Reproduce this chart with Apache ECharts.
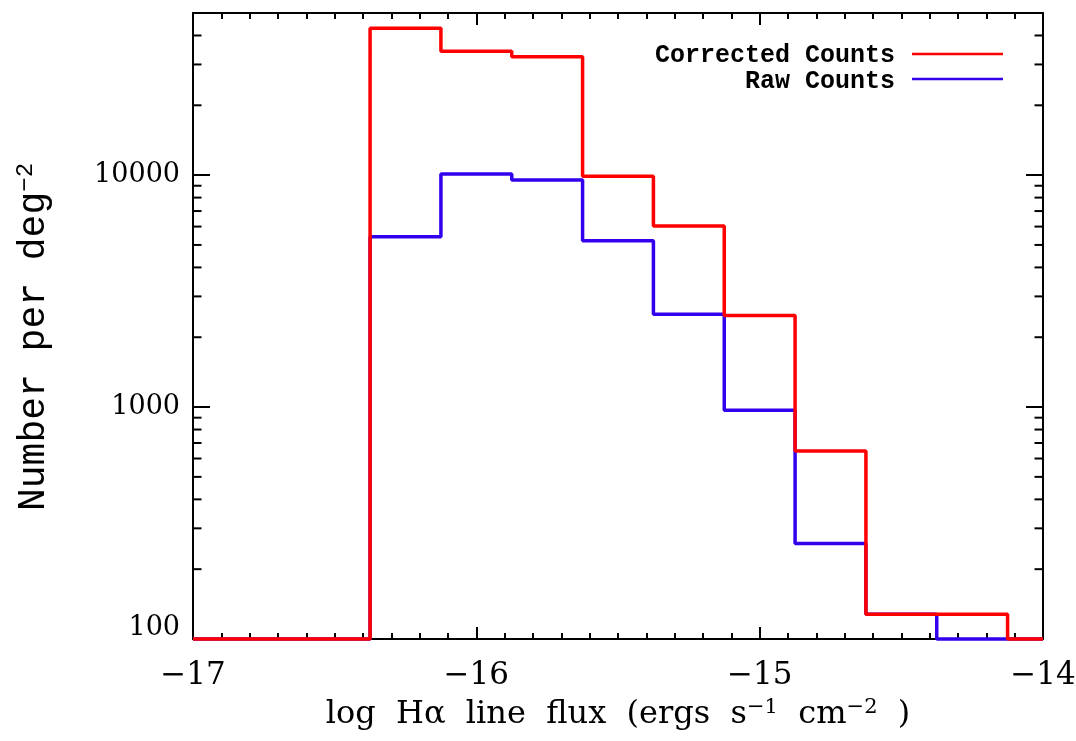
<!DOCTYPE html>
<html>
<head>
<meta charset="utf-8">
<script src="https://cdn.jsdelivr.net/npm/echarts@6/dist/echarts.min.js"></script>
<style>
html,body{margin:0;padding:0;background:#fff;}
#chart{width:1076px;height:741px;}
</style>
</head>
<body>
<div id="chart"></div>
<script>
// Step positions (bin edges, bounded by the axis range), width 0.25 dex
const stepX = [-17, -16.375, -16.125, -15.875, -15.625, -15.375, -15.125, -14.875, -14.625, -14.375, -14.125, -14];
// Values per step (100 = empty bins sitting on the axis floor)
const correctedCounts = [100, 43000, 34200, 32400, 9900, 6040, 2480, 647, 128, 128, 100, 100];
const rawCounts       = [100, 5420, 10100, 9520, 5210, 2510, 970, 258, 128, 100, 100, 100];
const xTicks = [-17, -16, -15, -14];
const yTicks = [100, 1000, 10000];
const seriesNames = ['Corrected Counts', 'Raw Counts'];
const seriesColors = ['#ff0000', '#3300ee'];

const X_MIN = -17, X_MAX = -14, Y_MIN = 100, Y_MAX = 50000;

// minor tick values on log axis (2..9 x 10^n)
const yMinor = [];
for (let d = 100; d < Y_MAX; d *= 10) {
  for (let m = 2; m <= 9; m++) { const v = m * d; if (v < Y_MAX) yMinor.push([X_MIN, v]); }
}

const chart = echarts.init(document.getElementById('chart'), null, {renderer: 'canvas'});
const tickFont = 'DejaVu Serif';
const black = '#000';

function pair(xs, ys) { return xs.map((x, i) => [x, ys[i]]); }
function fmtX(v) { return (v < 0 ? '\u2212' : '') + Math.abs(v); }

const option = {
  animation: false,
  backgroundColor: '#fff',
  grid: {left: 193, right: 33, top: 13, bottom: 102, containLabel: false, outerBoundsMode: 'none'},
  xAxis: [
    {
      type: 'value', min: X_MIN, max: X_MAX, interval: 1, position: 'bottom',
      axisLine: {show: true, onZero: false, lineStyle: {color: black, width: 2}},
      axisTick: {show: true, inside: true, length: 12, lineStyle: {color: black, width: 2}},
      minorTick: {show: true, splitNumber: 10, length: 6, lineStyle: {color: black, width: 2}},
      splitLine: {show: false},
      axisLabel: {show: true, formatter: fmtX, color: black, fontFamily: tickFont, fontSize: 31, margin: 21},
      name: '{t|log  H\u03b1  line  flux  (ergs  s}{s|\u22121}{t|  cm}{s|\u22122}{t|  )}',
      nameLocation: 'middle', nameGap: 58,
      nameTextStyle: {
        rich: {
          t: {fontFamily: 'DejaVu Serif', fontSize: 32, color: black, lineHeight: 36},
          s: {fontFamily: 'DejaVu Serif', fontSize: 21, color: black, verticalAlign: 'top', lineHeight: 36}
        }
      }
    },
    {
      type: 'value', min: X_MIN, max: X_MAX, interval: 1, position: 'top',
      axisLine: {show: true, onZero: false, lineStyle: {color: black, width: 2}},
      axisTick: {show: true, inside: true, length: 12, lineStyle: {color: black, width: 2}},
      minorTick: {show: true, splitNumber: 10, length: 6, lineStyle: {color: black, width: 2}},
      splitLine: {show: false},
      axisLabel: {show: false}
    }
  ],
  yAxis: [
    {
      type: 'log', logBase: 10, min: Y_MIN, max: Y_MAX, position: 'left',
      axisLine: {show: true, onZero: false, lineStyle: {color: black, width: 2}},
      axisTick: {show: true, inside: true, length: 17, lineStyle: {color: black, width: 2}},
      splitLine: {show: false},
      axisLabel: {
        show: true, color: black, fontFamily: tickFont, fontSize: 27, lineHeight: 22, margin: 13,
        showMaxLabel: false, verticalAlignMinLabel: 'bottom',
        formatter: v => (yTicks.indexOf(Math.round(v)) >= 0 ? String(Math.round(v)) : '')
      },
      name: '{t|Number per deg}{s|\u22122}',
      nameLocation: 'middle', nameRotate: 90, nameGap: 139,
      nameTextStyle: {
        padding: [0, 22, 0, 0],
        rich: {
          t: {fontFamily: 'Liberation Mono', fontSize: 38, color: black, lineHeight: 40},
          s: {fontFamily: 'Liberation Mono', fontSize: 24, color: black, verticalAlign: 'top', lineHeight: 40}
        }
      }
    },
    {
      type: 'log', logBase: 10, min: Y_MIN, max: Y_MAX, position: 'right',
      axisLine: {show: true, onZero: false, lineStyle: {color: black, width: 2}},
      axisTick: {show: true, inside: true, length: 17, lineStyle: {color: black, width: 2}},
      splitLine: {show: false},
      axisLabel: {show: false}
    }
  ],
  graphic: [
    {type: 'text', right: 181, top: 43, style: {text: seriesNames[0], font: 'bold 25px "Liberation Mono"', fill: black, textAlign: 'right'}},
    {type: 'text', right: 181, top: 69, style: {text: seriesNames[1], font: 'bold 25px "Liberation Mono"', fill: black, textAlign: 'right'}},
    {type: 'line', shape: {x1: 912, y1: 54, x2: 1003, y2: 54}, style: {stroke: seriesColors[0], lineWidth: 2.5}},
    {type: 'line', shape: {x1: 912, y1: 79, x2: 1003, y2: 79}, style: {stroke: seriesColors[1], lineWidth: 2.5}}
  ],
  series: [
    {
      type: 'custom', name: 'minorTicks', silent: true, clip: false, z: 1,
      xAxisIndex: 0, yAxisIndex: 0,
      encode: {x: 0, y: 1},
      data: yMinor,
      renderItem: function (params, api) {
        const v = api.value(1);
        const pL = api.coord([X_MIN, v]);
        const pR = api.coord([X_MAX, v]);
        return {
          type: 'group',
          children: [
            {type: 'line', shape: {x1: pL[0], y1: pL[1], x2: pL[0] + 8.5, y2: pL[1]}, style: {stroke: black, lineWidth: 2}},
            {type: 'line', shape: {x1: pR[0], y1: pR[1], x2: pR[0] - 8.5, y2: pR[1]}, style: {stroke: black, lineWidth: 2}}
          ]
        };
      }
    },
    {
      type: 'line', name: seriesNames[1], step: 'end', showSymbol: false, symbol: 'none', clip: false, z: 3,
      xAxisIndex: 0, yAxisIndex: 0,
      data: pair(stepX, rawCounts),
      lineStyle: {color: seriesColors[1], width: 3.5}, itemStyle: {color: seriesColors[1]}
    },
    {
      type: 'line', name: seriesNames[0], step: 'end', showSymbol: false, symbol: 'none', clip: false, z: 4,
      xAxisIndex: 0, yAxisIndex: 0,
      data: pair(stepX, correctedCounts),
      lineStyle: {color: seriesColors[0], width: 3.5}, itemStyle: {color: seriesColors[0]}
    }
  ]
};
chart.setOption(option);
</script>
</body>
</html>
